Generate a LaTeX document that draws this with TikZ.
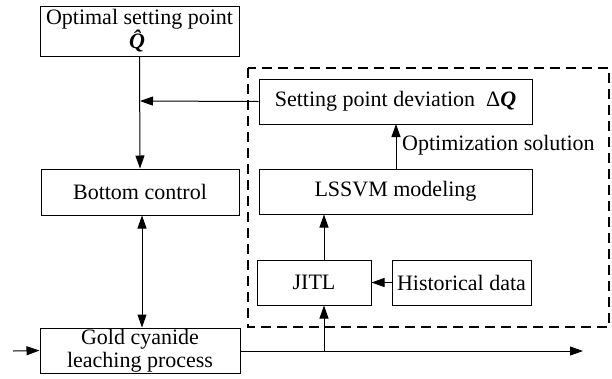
\documentclass[tikz,border=0pt]{standalone}
\usepackage{fontspec}
\setmainfont{Liberation Serif}
\usetikzlibrary{arrows.meta}
\begin{document}
\begin{tikzpicture}[x=1pt,y=-1pt,
  every node/.style={font=\fontsize{22}{22.5}\selectfont},
  box/.style={draw, line width=1pt, rectangle, inner sep=0pt, align=center},
  conn/.style={line width=1pt, -{Triangle[length=13pt,width=9pt]}},
  dconn/.style={line width=1pt, {Triangle[length=13pt,width=9pt]}-{Triangle[length=13pt,width=9pt]}},
  dashbox/.style={draw, line width=1.6pt, dash pattern=on 10pt off 6pt}
]
\useasboundingbox (0,0) rectangle (612,378);
% dashed region
\draw[dashbox] (248,68) rectangle (609,327);
% nodes
\node[box, minimum width=199pt, minimum height=50pt] (opt) at (139.5,31) {Optimal setting point\\[-1pt]\textbf{\textit{\^{Q}}}};
\node[box, minimum width=198pt, minimum height=46pt] (bc) at (140,192) {Bottom control};
\node[box, minimum width=200pt, minimum height=45pt] (gold) at (140,350.5) {Gold cyanide\\leaching process};
\node[box, minimum width=273pt, minimum height=45pt] (dev) at (395.5,101.5) {Setting point deviation\ \ Δ\textbf{\textit{Q}}};
\node[box, minimum width=273pt, minimum height=45pt] (lssvm) at (395.5,191.5) {LSSVM modeling};
\node[box, minimum width=114pt, minimum height=45pt] (jitl) at (314,282.5) {JITL};
\node[box, minimum width=139pt, minimum height=45pt] (hist) at (461.5,282.5) {Historical data};
\node[anchor=west, inner sep=0pt] (optsol) at (402,145) {Optimization solution};
% coordinates
\coordinate (in) at (13,351);
\coordinate (out) at (583,351);
\coordinate (tap) at (324,351);
\coordinate (join) at (140,101);
% connectors
\draw[conn] (opt.south) -- (bc.north);
\draw[conn] (dev.west) -- (join);
\draw[dconn] ([xshift=2pt]bc.south) -- ([xshift=2pt]gold.north);
\draw[conn] (in) -- (gold.west);
\draw[conn] (gold.east |- out) -- (out);
\draw[conn] (tap) -- (tap |- jitl.south);
\draw[conn] (tap |- jitl.north) -- (tap |- lssvm.south);
\draw[conn] (hist.west) -- (jitl.east);
\draw[conn] (396,169) -- (396,124);
\end{tikzpicture}
\end{document}
